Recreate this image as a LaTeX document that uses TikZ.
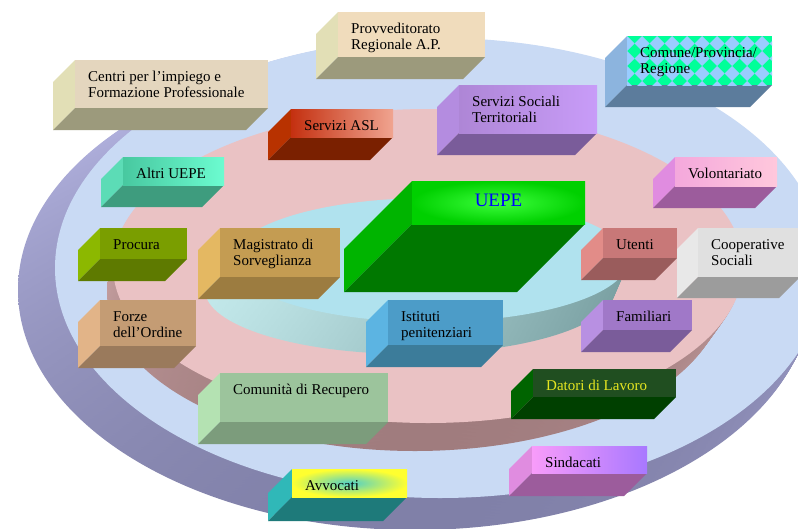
\documentclass[tikz,border=0pt]{standalone}
\usepackage{fontspec}
\setmainfont{Liberation Serif}

\definecolor{fuoriT}{HTML}{C9DAF4}
\definecolor{fuoriA}{HTML}{B8B8E6}
\definecolor{fuoriZ}{HTML}{8080A8}
\definecolor{rosaT}{HTML}{EAC2C4}
\definecolor{rosaA}{HTML}{E2BABA}
\definecolor{rosaZ}{HTML}{A07C7E}
\definecolor{cianoT}{HTML}{B0E2EE}
\definecolor{cianoA}{HTML}{C2E8EA}
\definecolor{cianoZ}{HTML}{7AA0A2}

\definecolor{centriL}{HTML}{E2DFB6}\definecolor{centriB}{HTML}{9C9A7C}
\definecolor{provvL}{HTML}{E2DFB6}\definecolor{provvB}{HTML}{9C9A7C}
\definecolor{aslL}{HTML}{B83200}\definecolor{aslB}{HTML}{7A2000}
\definecolor{sstL}{HTML}{B48CE0}\definecolor{sstB}{HTML}{7A5C9A}
\definecolor{comuneL}{HTML}{8CB4DE}\definecolor{comuneB}{HTML}{5C7C9C}
\definecolor{comuneV}{HTML}{00FF99}\definecolor{comuneD}{HTML}{99CCFF}
\definecolor{altriL}{HTML}{5CDCB6}\definecolor{altriB}{HTML}{3E9C7E}
\definecolor{volontL}{HTML}{E08CE0}\definecolor{volontB}{HTML}{9C5C9C}
\definecolor{uepeL}{HTML}{00B400}\definecolor{uepeB}{HTML}{007800}
\definecolor{procuraL}{HTML}{8CB800}\definecolor{procuraB}{HTML}{5E7A00}
\definecolor{magL}{HTML}{E4B862}\definecolor{magB}{HTML}{9C7C40}
\definecolor{utentiL}{HTML}{E28C88}\definecolor{utentiB}{HTML}{9A5C5C}
\definecolor{coopL}{HTML}{E8E8E8}\definecolor{coopB}{HTML}{9C9C9C}
\definecolor{forzeL}{HTML}{E2B488}\definecolor{forzeB}{HTML}{9A7A5C}
\definecolor{istL}{HTML}{5CB4E2}\definecolor{istB}{HTML}{3C7C9A}
\definecolor{famL}{HTML}{B890E2}\definecolor{famB}{HTML}{7A5C9A}
\definecolor{comunitaL}{HTML}{B4E2B2}\definecolor{comunitaB}{HTML}{7C9C7C}
\definecolor{datoriL}{HTML}{006400}\definecolor{datoriB}{HTML}{004000}
\definecolor{avvL}{HTML}{30B8B8}\definecolor{avvB}{HTML}{1E7A7A}
\definecolor{sindL}{HTML}{E08CE0}\definecolor{sindB}{HTML}{9C5C9C}

\tikzset{
  etichetta/.style={font=\fontsize{15}{16}\selectfont, align=left, inner sep=0pt, anchor=north west},
  centriF/.style={fill={rgb,255:red,228;green,214;blue,190}},
  provvF/.style={fill={rgb,255:red,240;green,220;blue,188}},
  aslF/.style={left color={rgb,255:red,196;green,48;blue,16}, right color={rgb,255:red,240;green,164;blue,144}},
  sstF/.style={left color={rgb,255:red,174;green,134;blue,214}, right color={rgb,255:red,200;green,156;blue,248}},
  comuneF/.style={fill=comuneV, path picture={
    \foreach \i in {0,...,10} \foreach \j in {0,...,4}
      \fill[comuneD] ([shift={(\i*15pt,-\j*15pt)}]path picture bounding box.north west)
        -- ++(7.5pt,-7.5pt) -- ++(-7.5pt,-7.5pt) -- ++(-7.5pt,7.5pt) -- cycle;}},
  altriF/.style={left color={rgb,255:red,72;green,200;blue,160}, right color={rgb,255:red,108;green,252;blue,208}},
  volontF/.style={left color={rgb,255:red,244;green,168;blue,220}, right color={rgb,255:red,255;green,200;blue,220}},
  uepeF/.style={inner color={rgb,255:red,60;green,255;blue,60}, outer color={rgb,255:red,0;green,208;blue,0}},
  procuraF/.style={fill={rgb,255:red,122;green,158;blue,0}},
  magF/.style={fill={rgb,255:red,196;green,156;blue,82}},
  utentiF/.style={fill={rgb,255:red,200;green,120;blue,120}},
  coopF/.style={fill={rgb,255:red,224;green,224;blue,224}},
  forzeF/.style={fill={rgb,255:red,196;green,156;blue,116}},
  istF/.style={fill={rgb,255:red,76;green,156;blue,200}},
  famF/.style={fill={rgb,255:red,160;green,120;blue,200}},
  comunitaF/.style={fill={rgb,255:red,156;green,196;blue,156}},
  datoriF/.style={fill={rgb,255:red,32;green,78;blue,32}},
  avvF/.style={inner color={rgb,255:red,80;green,208;blue,200}, outer color={rgb,255:red,255;green,255;blue,48}},
  sindF/.style={left color={rgb,255:red,248;green,156;blue,250}, right color={rgb,255:red,168;green,120;blue,255}}
}

\newcommand{\blocco}[9]{%
  \fill[#7L] (#2,#3) -- (#2,#5) -- ({#2-#6},{#5+#6}) -- ({#2-#6},{#3+#6}) -- cycle;
  \fill[#7B] (#2,#5) -- (#4,#5) -- ({#4-#6},{#5+#6}) -- ({#2-#6},{#5+#6}) -- cycle;
  \path[#7F] (#2,#3) rectangle (#4,#5);
  \node[etichetta, #8] (#1) at ({#2+13},{#3+10.3}) {\strut #9};
}

\begin{document}
\begin{tikzpicture}[x=1pt,y=-1pt]
\useasboundingbox (0,0) rectangle (798,528);
\clip (0,0) rectangle (798,528);
\fill[white] (0,0) rectangle (798,528);

\foreach \t in {0,0.05,...,1}
  \shade[top color=fuoriA, bottom color=fuoriZ] ({415+25*\t},{290-22*\t}) ellipse [x radius={397pt-12pt*\t}, y radius={240pt-10pt*\t}];
\fill[fuoriT] (440,268) ellipse [x radius=385pt, y radius=230pt];
\foreach \t in {0,0.05,...,1}
  \shade[top color=rosaA, bottom color=rosaZ] ({415+13*\t},{293-27*\t}) ellipse [x radius={308pt+7pt*\t}, y radius={158pt-1pt*\t}];
\fill[rosaT] (428,266) ellipse [x radius=315pt, y radius=157pt];
\foreach \t in {0,0.05,...,1}
  \shade[left color=cianoA, right color=cianoZ] ({410+20*\t},{290-30*\t}) ellipse [x radius={205pt-7pt*\t}, y radius={64pt-2pt*\t}];
\fill[cianoT] (430,260) ellipse [x radius=198pt, y radius=62pt];

\blocco{centri}{75}{60}{268}{108}{22}{centri}{}{Centri per l'impiego e\\Formazione Professionale}
\blocco{provv}{338}{12}{485}{57}{22}{provv}{}{Provveditorato\\Regionale A.P.}
\blocco{asl}{291}{109}{393}{137}{23}{asl}{}{Servizi ASL}
\blocco{sst}{459}{85}{597}{133}{22}{sst}{}{Servizi Sociali\\Territoriali}
\blocco{comune}{627}{36}{772}{85}{22}{comune}{}{Comune/Provincia/\\Regione}
\blocco{altri}{123}{157}{224}{185}{22}{altri}{}{Altri UEPE}
\blocco{volont}{675}{157}{777}{186}{22}{volont}{}{Volontariato}
\blocco{uepe}{412}{181}{585}{224}{68}{uepe}{anchor=north, xshift=73.5pt, text=blue, font=\fontsize{19}{21}\selectfont}{UEPE}
\blocco{procura}{100}{228}{187}{259}{22}{procura}{}{Procura}
\blocco{magistrato}{220}{228}{340}{277}{22}{mag}{}{Magistrato di\\Sorveglianza}
\blocco{utenti}{603}{228}{677}{258}{22}{utenti}{}{Utenti}
\blocco{coop}{698}{228}{800}{277}{21}{coop}{}{Cooperative\\Sociali}
\blocco{forze}{100}{300}{196}{346}{22}{forze}{}{Forze\\dell'Ordine}
\blocco{istituti}{388}{300}{503}{345}{22}{ist}{}{Istituti\\penitenziari}
\blocco{familiari}{603}{300}{692}{330}{22}{fam}{}{Familiari}
\blocco{comunita}{220}{373}{388}{422}{22}{comunita}{}{Comunità di Recupero}
\blocco{datori}{533}{369}{676}{397}{22}{datori}{text={rgb,255:red,230;green,230;blue,32}}{Datori di Lavoro}
\blocco{avvocati}{292}{469}{407}{497}{24}{avv}{}{Avvocati}
\blocco{sindacati}{532}{446}{647}{473}{23}{sind}{}{Sindacati}
\end{tikzpicture}
\end{document}
